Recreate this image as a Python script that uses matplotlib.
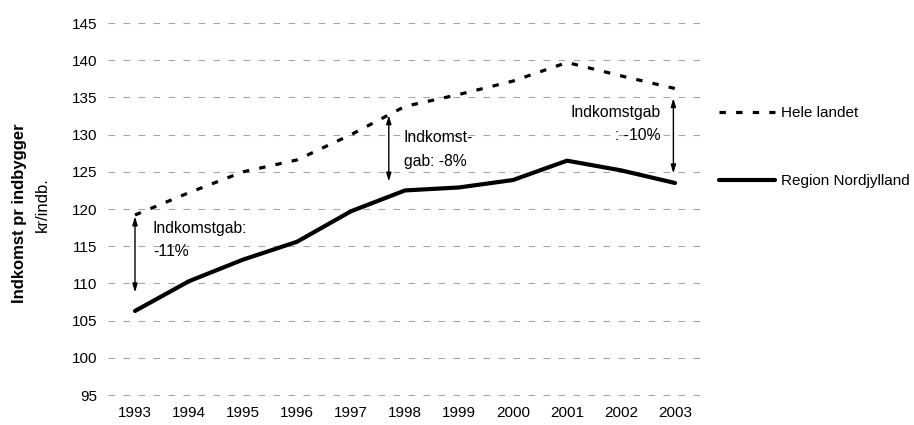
import matplotlib
matplotlib.use("Agg")
import matplotlib.pyplot as plt

plt.rcParams['font.family'] = ['Liberation Sans', 'DejaVu Sans']

years = [1993, 1994, 1995, 1996, 1997, 1998, 1999, 2000, 2001, 2002, 2003]
hele_landet = [119.2, 122.2, 125.0, 126.6, 130.0, 133.8, 135.4, 137.2, 139.7, 137.9, 136.2]
nordjylland = [106.3, 110.3, 113.2, 115.6, 119.7, 122.5, 122.9, 123.9, 126.5, 125.2, 123.5]
yticks = [95, 100, 105, 110, 115, 120, 125, 130, 135, 140, 145]

# gap arrows: (x, top, bottom)
gap_arrows = [(1993.0, 119.0, 108.8), (1997.7, 132.6, 123.7), (2002.97, 134.9, 124.8)]

fig = plt.figure(figsize=(9.14, 4.25), dpi=100)
ax = fig.add_axes([108/914, 0.0355, 594/914, 0.9453])
ax.set_xlim(1992.5, 2003.5)
ax.set_ylim(93, 147)

ax.set_yticks(yticks)
ax.set_xticks(years)
ax.set_xticklabels([str(y) for y in years])
ax.tick_params(axis='both', length=0, labelsize=11, colors='#000000')
ax.tick_params(axis='y', pad=8)
ax.tick_params(axis='x', pad=-3)
for s in ax.spines.values():
    s.set_visible(False)
ax.grid(axis='y', color='#a6a6a6', linestyle=(0, (6, 7.5)), linewidth=0.8)
ax.set_axisbelow(True)

l1, = ax.plot(years, hele_landet, color='black', linewidth=2.3,
              linestyle=(0, (2.0, 3.2)), label='Hele landet')
l2, = ax.plot(years, nordjylland, color='black', linewidth=3.0,
              solid_capstyle='round', label='Region Nordjylland')

for x, top, bot in gap_arrows:
    ax.annotate('', xy=(x, bot), xytext=(x, top),
                arrowprops=dict(arrowstyle='<|-|>,head_length=0.5,head_width=0.15',
                                color='black', lw=1.0, shrinkA=0, shrinkB=0))

ax.text(1993.33, 115.8, 'Indkomstgab:\n-11%', fontsize=11.3, ha='left', va='center',
        linespacing=1.65)
ax.text(1997.98, 128.0, 'Indkomst-\ngab: -8%', fontsize=11.3, ha='left', va='center',
        linespacing=1.72)
ax.text(2002.74, 131.4, 'Indkomstgab\n: -10%', fontsize=11.3, ha='right', va='center',
        linespacing=1.65, multialignment='right')

leg = fig.legend(handles=[l1, l2], loc='upper left', bbox_to_anchor=(713/914, 1 - 100/425),
                 frameon=False, fontsize=11, handlelength=3.67, handletextpad=0.4,
                 labelspacing=3.55, borderaxespad=0)

fig.text(20/914, 1 - 213/425, 'Indkomst pr indbygger', rotation=90, fontsize=12,
         fontweight='bold', ha='center', va='center')
fig.text(42/914, 1 - 205/425, 'kr/indb.', rotation=90, fontsize=12,
         ha='center', va='center')

fig.savefig('out.png', dpi=100)
